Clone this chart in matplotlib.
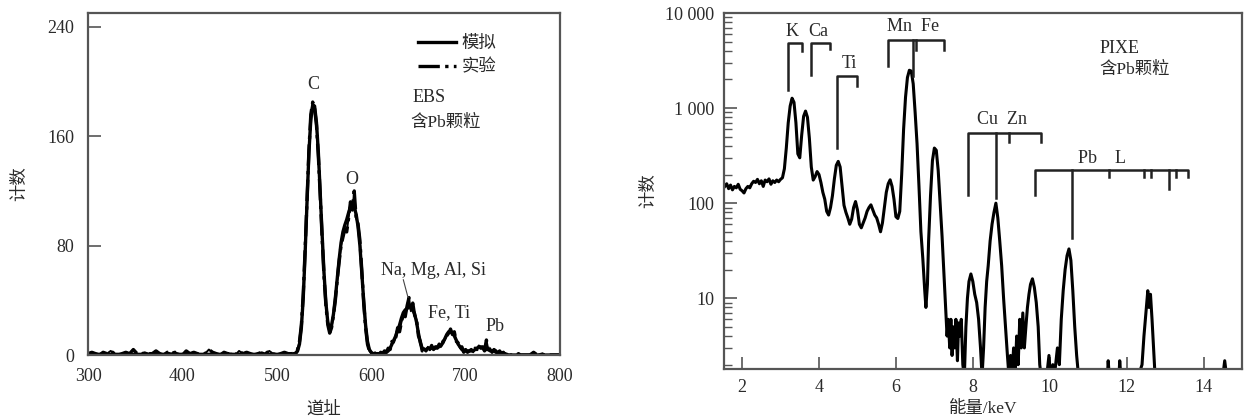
import numpy as np
import matplotlib.pyplot as plt
from matplotlib.ticker import FixedLocator, FixedFormatter, LogLocator, NullFormatter

plt.rcParams['font.family'] = ['Liberation Serif', 'Noto Sans CJK SC']
plt.rcParams['axes.unicode_minus'] = False

# === EBS spectrum (left) ===
# baseline, channels 300..516 every 4
ebs_base = [1, 2, 1, 0, 2, 1, 3, 1, 0, 1, 2, 1, 4, 1, 0, 2, 1, 1, 3, 1,
            0, 2, 1, 2, 1, 0, 3, 1, 2, 1, 0, 1, 4, 2, 1, 0, 2, 1, 1, 0,
            3, 1, 2, 1, 0, 1, 2, 1, 3, 1, 0, 1, 2, 1, 1]
# peak region, channels 520..760 every 2
ebs_sim = [1, 3, 8, 20, 42, 75, 112, 148, 172, 183,
           182, 170, 148, 118, 88, 60, 38, 24, 19, 22,
           30, 42, 56, 70, 82, 90, 95, 99, 104, 108,
           110, 108, 103, 94, 80, 60, 40, 22, 10, 4,
           2, 1, 1, 1, 1, 1, 1, 1, 2, 3,
           5, 8, 11, 14, 18, 22, 27, 31, 33, 34,
           35, 35, 33, 30, 24, 16, 9, 5, 4, 4,
           5, 5, 5, 5, 5, 6, 6, 7, 9, 12,
           15, 17, 17, 16, 14, 11, 8, 6, 4, 3,
           3, 3, 3, 3, 3, 4, 5, 6, 6, 5,
           4, 4, 4, 3, 3, 3, 2, 2, 2, 1,
           1, 1, 0, 0, 0, 0, 0, 0, 0, 0, 0]
ebs_exp = [2, 4, 10, 22, 45, 78, 115, 150, 176, 185,
           180, 168, 145, 116, 85, 57, 36, 22, 16, 20,
           29, 40, 55, 68, 80, 86, 92, 90, 100, 112,
           106, 120, 100, 96, 84, 62, 38, 20, 8, 3,
           1, 0, 2, 1, 0, 2, 1, 3, 2, 5,
           4, 10, 9, 13, 20, 17, 24, 30, 28, 36,
           42, 32, 38, 29, 26, 14, 10, 3, 5, 3,
           6, 4, 7, 4, 6, 5, 8, 6, 10, 11,
           14, 16, 19, 15, 17, 10, 9, 5, 6, 2,
           4, 2, 3, 4, 2, 5, 4, 7, 5, 6,
           3, 11, 4, 5, 2, 4, 3, 1, 3, 1,
           2, 0, 1, 0, 0, 0, 0, 0, 1, 0, 0]
# tail, channels 764..800 every 4
ebs_tail = [0, 0, 2, 0, 1, 0, 0, 0, 0, 0]

# === PIXE spectrum (right) ===
pixe_kev = [1.55, 1.60, 1.65, 1.70, 1.75, 1.80, 1.85, 1.90, 1.95, 2.00,
            2.05, 2.10, 2.15, 2.20, 2.25, 2.30, 2.35, 2.40, 2.45, 2.50,
            2.55, 2.60, 2.65, 2.70, 2.75, 2.80, 2.85, 2.90, 2.95, 3.00,
            3.05, 3.10, 3.15, 3.20, 3.25, 3.30, 3.35, 3.40, 3.45, 3.50,
            3.55, 3.60, 3.65, 3.70, 3.75, 3.80, 3.85, 3.90, 3.95, 4.00,
            4.05, 4.10, 4.15, 4.20, 4.25, 4.30, 4.35, 4.40, 4.45, 4.50,
            4.55, 4.60, 4.65, 4.70, 4.75, 4.80, 4.85, 4.90, 4.95, 5.00,
            5.05, 5.10, 5.15, 5.20, 5.25, 5.30, 5.35, 5.40, 5.45, 5.50,
            5.55, 5.60, 5.65, 5.70, 5.75, 5.80, 5.85, 5.90, 5.95, 6.00,
            6.05, 6.10, 6.15, 6.20, 6.25, 6.30, 6.35, 6.40, 6.45, 6.50,
            6.55, 6.60, 6.65, 6.70, 6.75, 6.78, 6.82, 6.85, 6.90, 6.95,
            7.00, 7.05, 7.10, 7.15, 7.20, 7.25, 7.30, 7.33, 7.36, 7.40,
            7.43, 7.46, 7.50, 7.53, 7.56, 7.60, 7.63, 7.66, 7.70, 7.74,
            7.78, 7.82, 7.86, 7.90, 7.95, 8.00, 8.05, 8.10, 8.15, 8.20,
            8.24, 8.28, 8.32, 8.36, 8.40, 8.45, 8.50, 8.55, 8.60, 8.65,
            8.70, 8.75, 8.80, 8.85, 8.90, 8.94, 8.98, 9.02, 9.06, 9.10,
            9.14, 9.18, 9.22, 9.26, 9.30, 9.34, 9.38, 9.42, 9.46, 9.50,
            9.55, 9.60, 9.65, 9.70, 9.74, 9.78, 9.85, 9.92, 9.98, 10.02,
            10.08, 10.12, 10.20, 10.25, 10.30, 10.35, 10.40, 10.45, 10.50, 10.55,
            10.60, 10.65, 10.70, 10.75, 11.00, 11.30, 11.50, 11.52, 11.55, 11.80,
            11.82, 11.85, 12.00, 12.30, 12.40, 12.45, 12.50, 12.55, 12.58, 12.62,
            12.66, 12.70, 12.74, 13.00, 14.00, 14.50, 14.55, 14.60, 14.95]
pixe_counts = [150, 160, 142, 155, 138, 150, 145, 158, 140, 135,
               128, 142, 150, 145, 160, 170, 165, 178, 160, 172,
               150, 175, 168, 180, 158, 172, 165, 175, 168, 178,
               185, 230, 380, 700, 1050, 1270, 1150, 700, 330, 300,
               520, 820, 930, 800, 480, 240, 175, 190, 215, 200,
               165, 130, 110, 82, 75, 90, 120, 180, 250, 275,
               240, 150, 95, 80, 70, 60, 68, 90, 104, 85,
               60, 55, 62, 70, 82, 90, 96, 85, 75, 70,
               60, 50, 62, 90, 130, 160, 176, 150, 110, 72,
               69, 82, 200, 600, 1300, 2100, 2500, 2450, 1800, 900,
               420, 150, 50, 26, 12, 8, 14, 40, 120, 280,
               380, 360, 220, 100, 45, 18, 7, 4, 6, 3,
               6, 2.5, 5, 3, 6, 2.2, 5.5, 4, 6, 2,
               1.5, 5, 10, 15, 18, 15, 11, 9, 6, 3,
               1.5, 3, 8, 15, 22, 40, 60, 80, 100, 70,
               40, 22, 10, 5, 2.5, 1.5, 2.5, 1.5, 3, 1.5,
               4, 2, 6, 3, 7, 3, 5, 8, 11, 14,
               16, 13, 9, 5, 2, 1.5, 1.5, 1.5, 2.5, 1.5,
               2, 1.5, 3, 2, 6, 12, 20, 28, 33, 25,
               12, 5, 2.5, 1.5, 1.5, 1.5, 1.5, 2.2, 1.5, 1.5,
               2.2, 1.5, 1.5, 1.5, 2, 4, 7, 12, 8, 11,
               6, 3, 1.5, 1.5, 1.5, 1.5, 2.2, 1.5, 1.5]

# element line brackets: (left, right, bar height, left drop, right drop)
brackets = [(3.19, 3.55, 4800, 1560, 3950),
            (3.79, 4.28, 4800, 2240, 4200),
            (4.46, 4.98, 2150, 380, 1690),
            (5.79, 7.24, 5250, 2750, 4100),
            (7.87, 9.77, 545, 122, 440),
            (9.62, 13.60, 224, 122, 190)]
# inner line marks: (energy, bar height, drop)
line_marks = [(6.44, 5250, 2200), (6.51, 5250, 4100),
              (8.61, 545, 113), (8.94, 545, 440),
              (10.57, 224, 43), (11.53, 224, 190), (12.46, 224, 190),
              (12.63, 224, 190), (13.10, 224, 140), (13.29, 224, 190)]

fig = plt.figure(figsize=(12.47, 4.19), dpi=100)
frame_col = '#555555'
text_col = '#2a2a2a'
fs_tick = 13
fs_txt = 13
fs_cjk = 12.5
cjk_w = 'medium'

# --- left panel ---
ax1 = fig.add_axes([0.0706, 0.1527, 0.3785, 0.816])
x_base = 300 + 4 * np.arange(len(ebs_base))
x_peak = 520 + 2 * np.arange(len(ebs_sim))
x_tail = 764 + 4 * np.arange(len(ebs_tail))
sim_x = np.concatenate([[300, 516], x_peak, [800]])
sim_y = np.concatenate([[0.5, 0.5], ebs_sim, [0]])
exp_x = np.concatenate([x_base, x_peak, x_tail])
exp_y = np.concatenate([ebs_base, ebs_exp, ebs_tail])
ax1.plot(sim_x, sim_y, '-', color='black', lw=2.4, label='模拟')
ax1.plot(exp_x, exp_y, '-.', color='black', lw=2.4, label='实验')
ax1.plot(exp_x, exp_y, '-', color='black', lw=1.4)
ax1.set_xlim(300, 800)
ax1.set_ylim(0, 250)
ax1.set_xticks([300, 400, 500, 600, 700, 800])
ax1.set_yticks([0, 80, 160, 240])
ax1.tick_params(axis='y', direction='in', length=9, width=1.2, color=frame_col,
                labelsize=fs_tick, labelcolor=text_col, pad=10)
ax1.tick_params(axis='x', direction='in', length=0, labelsize=fs_tick,
                labelcolor=text_col, pad=9)
ax1.set_xlabel('道址', fontsize=fs_cjk, fontweight=cjk_w, color=text_col, labelpad=12)
ax1.set_ylabel('计数', fontsize=fs_cjk, fontweight=cjk_w, color=text_col, labelpad=14)
for s in ax1.spines.values():
    s.set_color(frame_col)
    s.set_linewidth(1.6)

leg = ax1.legend(loc='upper left', bbox_to_anchor=(0.685, 0.955), frameon=False,
                 handlelength=2.2, handletextpad=0.3, labelspacing=0.45,
                 borderaxespad=0, prop={'size': fs_cjk, 'weight': cjk_w})
for t in leg.get_texts():
    t.set_color(text_col)
ax1.text(644, 188, 'EBS', fontsize=fs_txt, color=text_col, va='center')
ax1.text(641, 170, '含Pb颗粒', fontsize=fs_cjk, fontweight=cjk_w, color=text_col,
         va='center')
ax1.text(539, 198, 'C', fontsize=fs_txt, color=text_col, ha='center', va='center')
ax1.text(579, 128, 'O', fontsize=fs_txt, color=text_col, ha='center', va='center')
ax1.text(666, 62, 'Na, Mg, Al, Si', fontsize=fs_txt, color=text_col, ha='center',
         va='center')
ax1.plot([634, 639], [55, 42], color='#444444', lw=0.8)
ax1.text(682, 31, 'Fe, Ti', fontsize=fs_txt, color=text_col, ha='center', va='center')
ax1.text(731, 21, 'Pb', fontsize=fs_txt, color=text_col, ha='center', va='center')

# --- right panel ---
ax2 = fig.add_axes([0.5806, 0.1193, 0.4154, 0.8496])
ax2.plot(pixe_kev, pixe_counts, '-', color='black', lw=2.2)
ax2.set_yscale('log')
ax2.set_xlim(1.53, 15.0)
ax2.set_ylim(1.8, 10000)
ax2.yaxis.set_major_locator(FixedLocator([10, 100, 1000, 10000]))
ax2.yaxis.set_major_formatter(FixedFormatter(['10', '100', '1 000', '10 000']))
ax2.yaxis.set_minor_locator(LogLocator(base=10, subs=np.arange(2, 10)))
ax2.yaxis.set_minor_formatter(NullFormatter())
ax2.set_xticks([2, 4, 6, 8, 10, 12, 14])
ax2.tick_params(axis='both', which='major', direction='in', length=9, width=1.2,
                color=frame_col, labelsize=fs_tick, labelcolor=text_col, pad=7)
ax2.tick_params(axis='y', which='minor', direction='in', length=6, width=1.0,
                color=frame_col)
ax2.set_xlabel('能量/keV', fontsize=fs_cjk, fontweight=cjk_w, color=text_col,
               labelpad=4)
ax2.set_ylabel('计数', fontsize=fs_cjk, fontweight=cjk_w, color=text_col, labelpad=6)
for s in ax2.spines.values():
    s.set_color(frame_col)
    s.set_linewidth(1.6)

for x0, x1, h, d0, d1 in brackets:
    ax2.plot([x0, x0, x1, x1], [d0, h, h, d1], color='#222222', lw=1.8)
for xm, h, d in line_marks:
    ax2.plot([xm, xm], [h, d], color='#222222', lw=1.8)

ax2.text(3.31, 6400, 'K', fontsize=fs_txt, color=text_col, ha='center', va='center')
ax2.text(3.98, 6400, 'Ca', fontsize=fs_txt, color=text_col, ha='center', va='center')
ax2.text(4.78, 2950, 'Ti', fontsize=fs_txt, color=text_col, ha='center', va='center')
ax2.text(6.44, 7300, 'Mn  Fe', fontsize=fs_txt, color=text_col, ha='center',
         va='center')
ax2.text(8.77, 760, 'Cu  Zn', fontsize=fs_txt, color=text_col, ha='center',
         va='center')
ax2.text(11.35, 295, 'Pb    L', fontsize=fs_txt, color=text_col, ha='center',
         va='center')
ax2.text(11.3, 4200, 'PIXE', fontsize=fs_txt, color=text_col, va='center')
ax2.text(11.3, 2500, '含Pb颗粒', fontsize=fs_cjk, fontweight=cjk_w, color=text_col,
         va='center')

fig.savefig('out.png', dpi=100)
